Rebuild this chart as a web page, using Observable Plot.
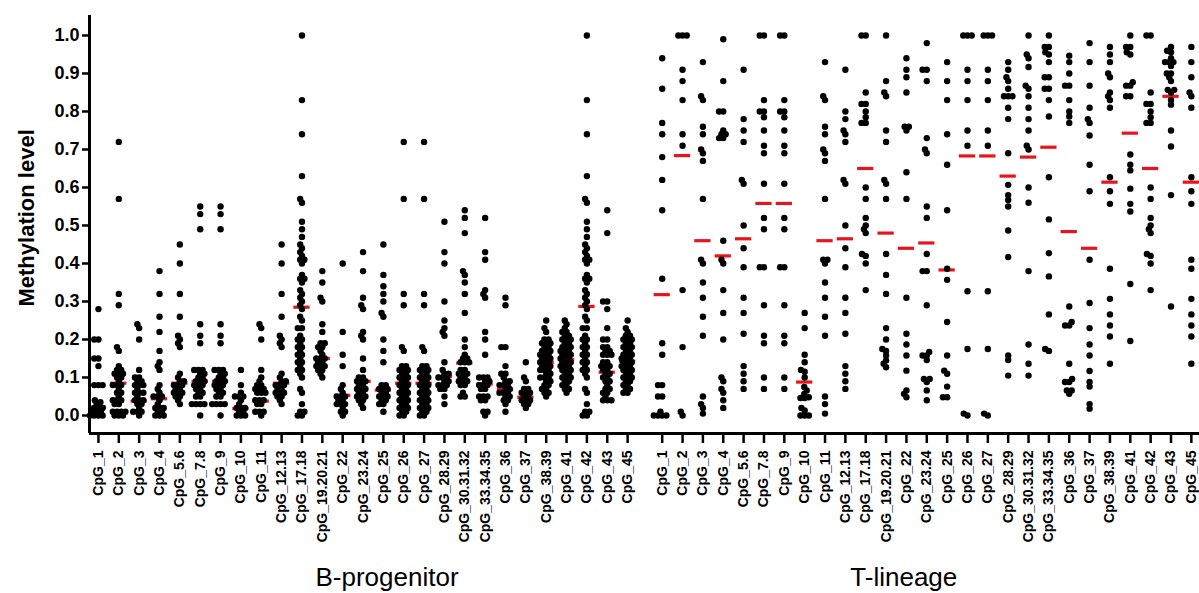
<!DOCTYPE html>
<html><head><meta charset="utf-8">
<script src="https://cdn.jsdelivr.net/npm/d3@7"></script>
<script src="https://cdn.jsdelivr.net/npm/@observablehq/plot@0.6"></script>
<style>body{margin:0;background:#fff}</style>
</head><body><div id="chart"></div>
<script>
// ---------------- DATA ----------------
const cpgLabels = ["CpG_1","CpG_2","CpG_3","CpG_4","CpG_5.6","CpG_7.8","CpG_9","CpG_10","CpG_11","CpG_12.13","CpG_17.18","CpG_19.20.21","CpG_22","CpG_23.24","CpG_25","CpG_26","CpG_27","CpG_28.29","CpG_30.31.32","CpG_33.34.35","CpG_36","CpG_37","CpG_38.39","CpG_41","CpG_42","CpG_43","CpG_45"];
const groupNames = ["B-progenitor", "T-lineage"];
const yTicks = [0, 0.1, 0.2, 0.3, 0.4, 0.5, 0.6, 0.7, 0.8, 0.9, 1.0];

const bProgenitor = [
  [0.28,0.2,0.2,0.15,0.15,0.13,0.08,0.08,0.08,0.04,0.035,0.03,0.02,0.02,0.02,0.01,0.01,0.01,0,0,0,0],
  [0.72,0.57,0.32,0.29,0.18,0.17,0.13,0.12,0.12,0.11,0.11,0.11,0.1,0.1,0.09,0.08,0.08,0.08,0.07,0.06,0.06,0.05,0.04,0.04,0.04,0.03,0.03,0.01,0.01,0.01,0.01,0,0,0],
  [0.24,0.23,0.2,0.12,0.1,0.1,0.09,0.09,0.08,0.08,0.08,0.07,0.06,0.06,0.06,0.05,0.04,0.04,0.04,0.03,0.03,0.02,0.01,0.01,0.01,0],
  [0.38,0.32,0.26,0.22,0.17,0.14,0.13,0.12,0.08,0.07,0.06,0.05,0.05,0.05,0.04,0.03,0.02,0.02,0.02,0.01,0.01,0,0,0],
  [0.45,0.4,0.32,0.26,0.21,0.2,0.19,0.18,0.11,0.1,0.09,0.09,0.08,0.08,0.08,0.07,0.07,0.06,0.06,0.06,0.05,0.05,0.04,0.03],
  [0.55,0.53,0.49,0.24,0.21,0.19,0.12,0.12,0.12,0.11,0.11,0.1,0.1,0.09,0.09,0.09,0.08,0.08,0.08,0.07,0.07,0.06,0.06,0.05,0.05,0.03,0.03,0.03,0.03,0],
  [0.55,0.53,0.49,0.24,0.21,0.19,0.12,0.12,0.12,0.11,0.11,0.1,0.1,0.09,0.09,0.09,0.08,0.08,0.08,0.07,0.07,0.06,0.06,0.05,0.05,0.03,0.03,0.03,0.03,0],
  [0.12,0.08,0.06,0.05,0.05,0.05,0.04,0.03,0.02,0.02,0.02,0.01,0.01,0,0,0],
  [0.24,0.23,0.2,0.12,0.1,0.09,0.08,0.08,0.07,0.07,0.07,0.06,0.06,0.06,0.04,0.04,0.04,0.03,0.03,0.01,0.01,0.01,0],
  [0.45,0.4,0.32,0.26,0.21,0.2,0.19,0.18,0.11,0.1,0.09,0.09,0.08,0.08,0.08,0.07,0.07,0.06,0.06,0.06,0.05,0.05,0.04,0.03],
  [1.0,0.83,0.74,0.63,0.57,0.56,0.51,0.49,0.47,0.45,0.44,0.43,0.42,0.41,0.41,0.4,0.37,0.36,0.36,0.35,0.33,0.32,0.31,0.3,0.29,0.28,0.26,0.25,0.23,0.23,0.21,0.2,0.2,0.19,0.18,0.18,0.17,0.16,0.16,0.15,0.14,0.14,0.13,0.12,0.12,0.11,0.1,0.07,0.06,0.03,0.01,0.01,0,0],
  [0.38,0.35,0.31,0.3,0.24,0.22,0.19,0.19,0.18,0.18,0.17,0.16,0.15,0.15,0.15,0.14,0.14,0.13,0.13,0.13,0.12,0.12,0.11,0.1],
  [0.4,0.22,0.16,0.13,0.08,0.07,0.06,0.05,0.05,0.05,0.04,0.04,0.03,0.03,0.03,0.02,0.01,0.01,0],
  [0.43,0.38,0.31,0.29,0.28,0.22,0.21,0.2,0.15,0.12,0.1,0.1,0.09,0.09,0.09,0.08,0.08,0.07,0.07,0.07,0.06,0.06,0.05,0.05,0.05,0.04,0.04,0.03,0.02],
  [0.45,0.37,0.34,0.32,0.3,0.27,0.26,0.2,0.17,0.14,0.08,0.08,0.07,0.07,0.07,0.06,0.06,0.05,0.05,0.05,0.04,0.04,0.03,0.03,0.01],
  [0.72,0.57,0.32,0.29,0.18,0.17,0.13,0.13,0.12,0.12,0.12,0.11,0.11,0.1,0.1,0.1,0.09,0.09,0.08,0.08,0.08,0.07,0.07,0.06,0.06,0.06,0.05,0.05,0.04,0.04,0.04,0.03,0.03,0.02,0.02,0.02,0.01,0.01,0,0],
  [0.72,0.57,0.32,0.29,0.18,0.17,0.13,0.13,0.12,0.12,0.12,0.11,0.11,0.1,0.1,0.1,0.09,0.09,0.08,0.08,0.08,0.07,0.07,0.06,0.06,0.06,0.05,0.05,0.04,0.04,0.04,0.03,0.03,0.02,0.02,0.02,0.01,0.01,0,0],
  [0.51,0.43,0.4,0.3,0.25,0.23,0.22,0.21,0.14,0.12,0.11,0.11,0.1,0.1,0.1,0.09,0.09,0.08,0.08,0.08,0.07,0.07,0.05,0.03],
  [0.54,0.52,0.48,0.38,0.37,0.35,0.32,0.27,0.2,0.18,0.16,0.15,0.15,0.14,0.14,0.14,0.12,0.12,0.11,0.11,0.11,0.1,0.1,0.09,0.09,0.09,0.08,0.08,0.06,0.05,0.05],
  [0.52,0.43,0.41,0.33,0.32,0.31,0.22,0.2,0.16,0.1,0.1,0.1,0.09,0.09,0.08,0.08,0.08,0.07,0.07,0.05,0.05,0.05,0.04,0.04,0.01,0.01,0],
  [0.31,0.29,0.18,0.18,0.13,0.11,0.11,0.1,0.09,0.09,0.08,0.08,0.08,0.07,0.07,0.06,0.06,0.06,0.05,0.05,0.04,0.04,0.03,0.01],
  [0.14,0.1,0.09,0.07,0.07,0.06,0.06,0.06,0.05,0.05,0.04,0.04,0.04,0.03,0.03,0.02],
  [0.25,0.23,0.22,0.2,0.2,0.19,0.19,0.19,0.18,0.18,0.17,0.17,0.17,0.16,0.16,0.16,0.15,0.15,0.15,0.14,0.14,0.14,0.13,0.13,0.13,0.12,0.12,0.12,0.11,0.11,0.1,0.1,0.1,0.09,0.09,0.08,0.08,0.07,0.07,0.06,0.06,0.05],
  [0.25,0.24,0.23,0.22,0.22,0.21,0.21,0.2,0.2,0.2,0.19,0.19,0.18,0.18,0.18,0.17,0.17,0.17,0.16,0.16,0.16,0.15,0.15,0.15,0.14,0.14,0.14,0.13,0.13,0.13,0.12,0.12,0.12,0.11,0.11,0.1,0.1,0.1,0.09,0.09,0.08,0.08,0.07,0.07,0.06],
  [1.0,0.83,0.74,0.63,0.57,0.56,0.51,0.49,0.47,0.45,0.44,0.43,0.42,0.41,0.41,0.4,0.37,0.36,0.36,0.35,0.33,0.32,0.31,0.3,0.29,0.28,0.26,0.25,0.23,0.23,0.21,0.2,0.2,0.19,0.18,0.18,0.17,0.16,0.16,0.15,0.14,0.14,0.13,0.12,0.12,0.11,0.1,0.07,0.06,0.03,0.01,0.01,0,0],
  [0.54,0.48,0.3,0.3,0.28,0.23,0.2,0.2,0.18,0.18,0.17,0.17,0.16,0.16,0.16,0.14,0.14,0.13,0.13,0.13,0.12,0.12,0.11,0.11,0.1,0.1,0.09,0.09,0.08,0.07,0.07,0.06,0.06,0.05,0.04,0.04,0.04],
  [0.25,0.23,0.22,0.21,0.21,0.2,0.2,0.2,0.19,0.19,0.18,0.18,0.18,0.17,0.17,0.16,0.16,0.16,0.15,0.15,0.15,0.14,0.14,0.14,0.13,0.13,0.13,0.12,0.12,0.12,0.11,0.11,0.1,0.1,0.1,0.09,0.09,0.08,0.08,0.07,0.07,0.06,0.06]
];
const bMedians = [0.022,0.085,0.038,0.044,0.085,0.09,0.09,0.018,0.038,0.085,0.285,0.15,0.053,0.09,0.067,0.085,0.085,0.103,0.138,0.083,0.068,0.048,0.14,0.147,0.287,0.114,0.143];

const tLineage = [
  [0.94,0.86,0.77,0.74,0.68,0.62,0.54,0.36,0.19,0.16,0.08,0.08,0.05,0.05,0.01,0,0,0,0],
  [1,1,1,0.91,0.88,0.83,0.74,0.71,0.33,0.18,0.01,0],
  [0.93,0.84,0.83,0.76,0.74,0.7,0.69,0.67,0.57,0.41,0.4,0.35,0.31,0.26,0.21,0.05,0.03,0.02,0.005],
  [0.99,0.88,0.8,0.8,0.75,0.74,0.74,0.73,0.73,0.46,0.41,0.4,0.33,0.27,0.2,0.1,0.09,0.07,0.06,0.04,0.02],
  [0.91,0.78,0.75,0.72,0.62,0.61,0.5,0.44,0.39,0.31,0.27,0.215,0.13,0.11,0.09,0.07],
  [1,1,0.83,0.8,0.8,0.785,0.75,0.71,0.69,0.61,0.52,0.49,0.39,0.39,0.29,0.21,0.19,0.1,0.07],
  [1,1,0.83,0.8,0.8,0.785,0.75,0.71,0.69,0.61,0.52,0.49,0.39,0.39,0.29,0.21,0.19,0.1,0.07],
  [0.27,0.23,0.16,0.14,0.12,0.115,0.1,0.075,0.066,0.057,0.048,0.046,0.046,0.02,0.013,0,0,0],
  [0.93,0.84,0.83,0.76,0.74,0.7,0.69,0.67,0.57,0.41,0.41,0.4,0.35,0.31,0.26,0.21,0.05,0.03,0.005],
  [0.91,0.8,0.78,0.75,0.74,0.72,0.62,0.61,0.5,0.44,0.39,0.31,0.27,0.215,0.13,0.11,0.09,0.07],
  [1,1,0.85,0.82,0.82,0.8,0.785,0.77,0.77,0.6,0.57,0.52,0.5,0.49,0.48,0.425,0.42,0.4,0.33],
  [1,0.88,0.85,0.84,0.75,0.72,0.62,0.61,0.57,0.425,0.37,0.32,0.23,0.2,0.175,0.17,0.158,0.145,0.136,0.127],
  [0.94,0.91,0.89,0.85,0.76,0.76,0.75,0.64,0.57,0.31,0.215,0.187,0.158,0.118,0.066,0.057,0.048],
  [0.98,0.91,0.91,0.88,0.73,0.7,0.69,0.55,0.52,0.425,0.38,0.38,0.29,0.167,0.158,0.158,0.146,0.096,0.096,0.088,0.066,0.04],
  [0.93,0.88,0.83,0.74,0.66,0.54,0.386,0.357,0.246,0.158,0.118,0.11,0.076,0.048,0.048],
  [1,1,1,0.91,0.88,0.83,0.75,0.71,0.327,0.175,0.005,0],
  [1,1,1,0.91,0.88,0.83,0.75,0.71,0.327,0.175,0.005,0],
  [0.93,0.91,0.89,0.88,0.86,0.84,0.84,0.84,0.81,0.78,0.69,0.607,0.58,0.567,0.55,0.487,0.417,0.158,0.146,0.105],
  [1,0.95,0.94,0.917,0.868,0.86,0.84,0.81,0.78,0.75,0.71,0.7,0.6,0.56,0.38,0.187,0.136,0.105],
  [1,0.97,0.97,0.956,0.95,0.93,0.89,0.89,0.86,0.86,0.83,0.787,0.627,0.516,0.427,0.366,0.266,0.175,0.17],
  [0.947,0.93,0.9,0.868,0.868,0.83,0.8,0.787,0.77,0.287,0.246,0.237,0.237,0.136,0.096,0.088,0.088,0.066,0.066,0.057],
  [0.98,0.93,0.868,0.81,0.78,0.77,0.737,0.66,0.59,0.41,0.296,0.23,0.187,0.158,0.117,0.088,0.076,0.03,0.018],
  [0.97,0.95,0.93,0.9,0.89,0.85,0.84,0.83,0.81,0.627,0.59,0.557,0.386,0.307,0.266,0.237,0.208,0.136],
  [1,0.97,0.97,0.956,0.95,0.877,0.868,0.868,0.84,0.84,0.687,0.66,0.645,0.597,0.557,0.537,0.346,0.196],
  [1,1,0.85,0.82,0.82,0.8,0.785,0.77,0.77,0.6,0.57,0.52,0.5,0.49,0.48,0.425,0.42,0.4,0.33],
  [0.97,0.96,0.956,0.94,0.93,0.93,0.93,0.92,0.9,0.9,0.89,0.88,0.857,0.857,0.85,0.83,0.818,0.75,0.708,0.58,0.287],
  [0.97,0.93,0.89,0.85,0.84,0.81,0.627,0.59,0.557,0.41,0.386,0.307,0.266,0.237,0.208,0.136]
];
const tMedians = [0.318,0.684,0.46,0.42,0.465,0.558,0.558,0.088,0.46,0.465,0.65,0.48,0.44,0.454,0.383,0.683,0.683,0.63,0.68,0.706,0.484,0.44,0.614,0.743,0.65,0.84,0.614];

// ---------------- LAYOUT ----------------
const W = 1199, H = 593;
const mL = 89, mR = 0, mT = 15, mB = 160;
const xDomain = [-0.44, 54.1];
const yDomain = [-0.0474, 1.0526];
const tStart = 27.7;            // position of first T-lineage column
const R = 3.2, D = 4.2;         // dot radius, min distance between centres

const yScale = d3.scaleLinear(yDomain, [H - mB, mT]);
const pxPerUnit = (W - mL - mR) / (xDomain[1] - xDomain[0]);

function swarm(values) {
  const placed = [];
  const sorted = values.slice().sort((a, b) => a - b);
  for (const v of sorted) {
    const y = yScale(v);
    const cands = [0];
    for (const p of placed) {
      const dy = Math.abs(p.y - y);
      if (dy < D) {
        const dx = Math.sqrt(D * D - dy * dy);
        cands.push(p.x + dx, p.x - dx);
      }
    }
    cands.sort((a, b) => Math.abs(a) - Math.abs(b) || a - b);
    let x = 0;
    for (const c of cands) {
      let ok = true;
      for (const p of placed) {
        const ddx = c - p.x, ddy = y - p.y;
        if (ddx * ddx + ddy * ddy < D * D - 0.01) { ok = false; break; }
      }
      if (ok) { x = c; break; }
    }
    placed.push({x, y, v});
  }
  return placed;
}

const points = [], medianRows = [], tickPos = [], labelAt = new Map();
[bProgenitor, tLineage].forEach((group, g) => {
  const meds = g === 0 ? bMedians : tMedians;
  group.forEach((vals, i) => {
    const pos = (g === 0 ? 0 : tStart) + i;
    tickPos.push(pos);
    labelAt.set(pos, cpgLabels[i]);
    medianRows.push({x1: pos - 0.4, x2: pos + 0.4, y: meds[i]});
    for (const p of swarm(vals)) points.push({x: pos + p.x / pxPerUnit, y: p.v});
  });
});

const font = "'Liberation Sans', Arial, Helvetica, sans-serif";

const chart = Plot.plot({
  width: W, height: H,
  marginLeft: mL, marginRight: mR, marginTop: mT, marginBottom: mB,
  style: {fontFamily: font, background: "white", overflow: "visible"},
  x: {domain: xDomain, axis: null},
  y: {domain: yDomain, axis: null},
  marks: [
    Plot.ruleY(medianRows, {x1: "x1", x2: "x2", y: "y", stroke: "#e8141c", strokeWidth: 3.2}),
    Plot.dot(points, {x: "x", y: "y", r: R, fill: "black", stroke: "none"}),
    Plot.axisY({ticks: yTicks, tickFormat: d3.format(".1f"), tickSize: 7, tickPadding: 3,
      fontSize: 18, fontWeight: "bold", strokeWidth: 2.5, label: null}),
    Plot.axisX({ticks: tickPos, tickFormat: d => labelAt.get(d), tickRotate: -90,
      tickSize: 10, tickPadding: 7, fontSize: 14, fontWeight: "bold", strokeWidth: 2.5, label: null}),
    Plot.ruleX([xDomain[0]], {stroke: "black", strokeWidth: 3}),
    Plot.ruleY([yDomain[0]], {stroke: "black", strokeWidth: 3}),
    Plot.text(["Methylation level"], {text: d => d, x: () => xDomain[0], y: () => 0.52, dx: -63, rotate: -90,
      fontSize: 22, fontWeight: "bold", fill: "black"}),
    Plot.text([{x: 13, t: groupNames[0]}], {x: "x", text: "t", frameAnchor: "bottom", dy: 152, dx: 24,
      fontSize: 26, fontWeight: "normal", fill: "black"}),
    Plot.text([{x: tStart + 13, t: groupNames[1]}], {x: "x", text: "t", frameAnchor: "bottom", dy: 152, dx: -23,
      fontSize: 26, fontWeight: "normal", fill: "black"})
  ]
});
document.getElementById("chart").appendChild(chart);
</script>
</body></html>
